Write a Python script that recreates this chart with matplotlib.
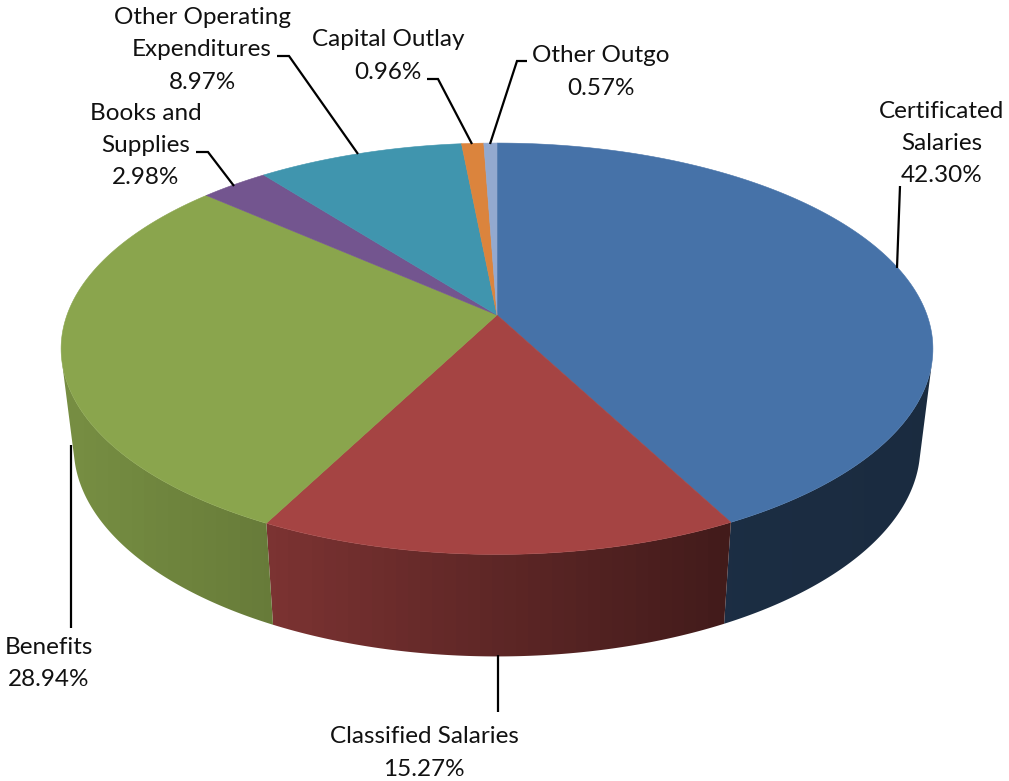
#!/usr/bin/env python3
from matplotlib import pyplot as plt
from matplotlib.colors import to_rgb
from matplotlib.patches import Polygon
import numpy as np

categories = ["Certificated\nSalaries", "Classified Salaries", "Benefits", "Books and\nSupplies",
              "Other Operating\nExpenditures", "Capital Outlay", "Other Outgo"]
shares = [42.30, 15.27, 28.94, 2.98, 8.97, 0.96, 0.57]
colors = ["#4672A8", "#A54443", "#8AA54D", "#73558F", "#4095AE", "#DB843D", "#93A9CF"]

# centre of each label block and the leader drawn for it
label_pos = [(942, 143.5), (424, 753), (49, 663.5), (146, 145.5), (202, 50), (388, 56), (601, 72)]
leaders = [
    [(900, 186), (897, 268)],
    [(498, 655), (498, 712)],
    [(71, 445), (71, 628)],
    [(196, 152), (208, 152), (234, 186)],
    [(277, 56), (289, 56), (358, 154)],
    [(427, 79), (438, 79), (472, 144)],
    [(527, 61), (517, 61), (490, 144)],
]

CX = 497
R = 430
PERSP = 0.164
SCALE_Y = -148.5
APEX_Y = 315
BAND = 12


def top_face(theta):
    # theta runs clockwise from twelve o'clock, the disc is seen in perspective
    u = np.sin(theta)
    v = np.cos(theta)
    d = 1 + PERSP * v
    return CX + R * u / d, (SCALE_Y * v + APEX_Y) / d


def bottom_face(theta):
    x, y = top_face(theta)
    return CX + (x - CX) * 0.971, 447 + (y - 348.5) * 1.017


fig = plt.figure(figsize=(10.09, 7.81), dpi=100)
ax = fig.add_axes([0, 0, 1, 1])
ax.axis("off")

edges = 2 * np.pi * np.cumsum([0] + shares) / sum(shares)

# wall brightness falls off to the right in vertical bands
columns = np.arange(1009)
bands = np.floor(columns / BAND) * BAND + BAND / 2
wall_shade = np.interp(bands, [75, 270, 497, 730, 920], [0.86, 0.75, 0.57, 0.40, 0.38])

# side walls, only the part of the rim that faces the viewer
for i in range(len(shares)):
    t = np.linspace(edges[i], edges[i + 1], 600)
    xt, yt = top_face(t)
    xb, yb = bottom_face(t)
    facing = np.gradient(xt) * (yb - yt) - np.gradient(yt) * (xb - xt) < 0
    if not facing.any():
        continue
    xt, yt, xb, yb = xt[facing], yt[facing], xb[facing], yb[facing]
    outline = np.c_[np.r_[xt, xb[::-1]], np.r_[yt, yb[::-1]]]
    strip = np.array(to_rgb(colors[i]))[None, None, :] * wall_shade[None, :, None]
    im = ax.imshow(strip, extent=(0, 1009, 781, 0), aspect="auto", interpolation="nearest")
    im.set_clip_path(Polygon(outline, closed=True, transform=ax.transData))

ax.set_xlim(0, 1009)
ax.set_ylim(781, 0)

for i in range(len(shares)):
    t = np.linspace(edges[i], edges[i + 1], 200)
    x, y = top_face(t)
    x = np.r_[CX, x]
    y = np.r_[APEX_Y, y]
    ax.fill(x, y, facecolor=colors[i], edgecolor=colors[i], linewidth=0.4)

for line in leaders:
    xs, ys = zip(*line)
    ax.plot(xs, ys, color="black", linewidth=1.6, solid_capstyle="butt", solid_joinstyle="miter")

for name, share, (x, y) in zip(categories, shares, label_pos):
    rows = name.split("\n") + ["%.2f%%" % share]
    y0 = y - (len(rows) - 1) * 32.5 / 2
    for j, row in enumerate(rows):
        ax.text(x, y0 + j * 32.5, row, ha="center", va="center", fontsize=17.5, family="Lato", color="#111111")

fig.savefig("out.png", dpi=100)
